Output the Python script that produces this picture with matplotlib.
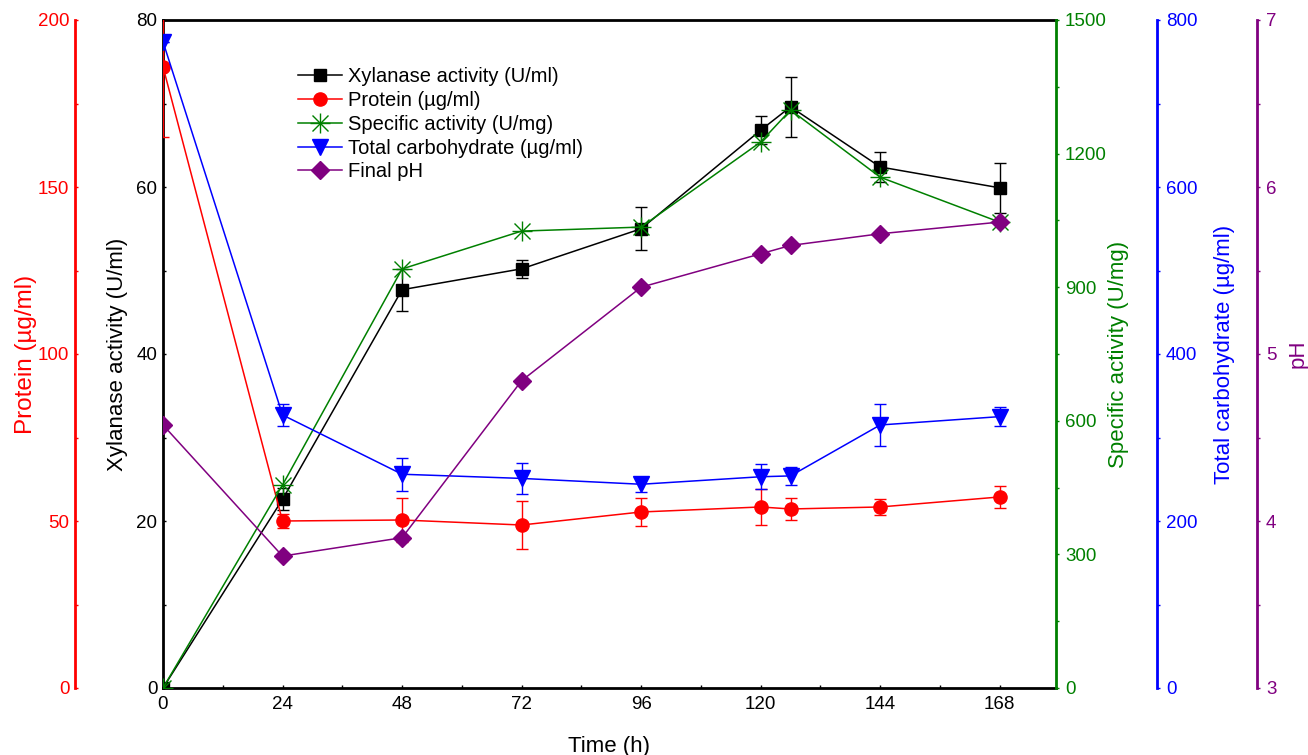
import numpy as np
import matplotlib
matplotlib.use('Agg')
import matplotlib.pyplot as plt

plt.rcParams['font.family'] = ['Liberation Sans', 'DejaVu Sans']

# data
time_h = [0, 24, 48, 72, 96, 120, 126, 144, 168]
xylanase = [0.0, 22.6, 47.7, 50.2, 55.0, 66.8, 69.6, 62.4, 59.9]
xylanase_err = [0.0, 1.3, 2.5, 1.1, 2.6, 1.7, 3.6, 1.8, 3.0]
protein = [186, 50.0, 50.3, 48.8, 52.7, 54.2, 53.6, 54.2, 57.2]
protein_err = [21, 2.0, 6.5, 7.3, 4.2, 5.4, 3.4, 2.5, 3.4]
specific = [0, 456, 941, 1026, 1035, 1226, 1298, 1147, 1046]
carbo = [774, 327, 256, 251, 244, 253, 254, 315, 325]
carbo_err = [0, 13, 20, 19, 9, 15, 11, 25, 11]
ph = [4.575, 3.79, 3.90, 4.84, 5.40, 5.60, 5.65, 5.72, 5.79]

W, H = 1308, 755
fig = plt.figure(figsize=(W/100., H/100.), dpi=100)
x0, x1, y0, y1 = 163, 1056, 20, 688
ax = fig.add_axes([x0/W, 1-y1/H, (x1-x0)/W, (y1-y0)/H])
axw = float(x1-x0)

fs_tick = 13.5
fs_lab = 16

ax_p = ax.twinx()
ax_s = ax.twinx()
ax_c = ax.twinx()
ax_ph = ax.twinx()

lw = 1.1
cap = 4.5

# xylanase (main axis)
h1 = ax.errorbar(time_h, xylanase, yerr=xylanase_err, color='black', marker='s', ms=9,
                 lw=lw, capsize=cap, elinewidth=1, zorder=5)
# protein
h2 = ax_p.errorbar(time_h, protein, yerr=protein_err, color='red', marker='o', ms=9.5,
                   lw=lw, capsize=cap, elinewidth=1)
# specific activity
h3, = ax_s.plot(time_h, specific, color='green', marker='x', ms=12, mew=1, lw=lw)
h3b, = ax_s.plot(time_h, specific, color='green', marker='+', ms=15, mew=1, lw=0)
# carbohydrate
h4 = ax_c.errorbar(time_h, carbo, yerr=carbo_err, color='blue', marker='v', ms=11,
                   lw=lw, capsize=cap, elinewidth=1)
# pH
h5, = ax_ph.plot(time_h, ph, color='purple', marker='D', ms=9, lw=lw)

ax.set_xlim(0, 179.3)
ax.set_xticks(np.arange(0, 169, 24))
ax.set_xticks(np.arange(0, 179, 12), minor=True)
ax.set_ylim(0, 80)
ax.set_yticks([0, 20, 40, 60, 80])
ax.set_yticks(np.arange(0, 81, 10), minor=True)
ax.set_xlabel('Time (h)', fontsize=fs_lab, labelpad=16)
ax.set_ylabel('Xylanase activity (U/ml)', fontsize=fs_lab, labelpad=6)
ax.tick_params(which='both', direction='in', length=2.5, width=1, labelsize=fs_tick, pad=4)
ax.tick_params(axis='x', pad=6)
for s in ['left', 'bottom', 'top']:
    ax.spines[s].set_linewidth(2)
ax.spines['right'].set_visible(False)

def setup(a, color, pos, side, lims, ticks, minor, label, lpad, lsize=fs_lab):
    a.set_ylim(*lims)
    a.set_yticks(ticks)
    a.set_yticks(minor, minor=True)
    for s in a.spines.values():
        s.set_visible(False)
    sp = a.spines[side]
    sp.set_visible(True)
    sp.set_position(('axes', pos))
    sp.set_color(color)
    sp.set_linewidth(2)
    a.yaxis.set_ticks_position(side)
    a.yaxis.set_label_position(side)
    a.tick_params(which='both', colors=color, direction='in' if side == 'left' else 'out',
                  length=2.5, width=1, labelsize=fs_tick, pad=4)
    a.set_ylabel(label, color=color, fontsize=lsize, labelpad=lpad)

setup(ax_p, 'red', (75-x0)/axw, 'left', (0, 200), [0, 50, 100, 150, 200],
      np.arange(0, 201, 25), 'Protein (\u00b5g/ml)', 1, 17.5)
setup(ax_s, 'green', 1.0, 'right', (0, 1500), [0, 300, 600, 900, 1200, 1500],
      np.arange(0, 1501, 150), 'Specific activity (U/mg)', 1)
setup(ax_c, 'blue', (1157-x0)/axw, 'right', (0, 800), [0, 200, 400, 600, 800],
      np.arange(0, 801, 100), 'Total carbohydrate (\u00b5g/ml)', 12)
setup(ax_ph, 'purple', (1257-x0)/axw, 'right', (3, 7), [3, 4, 5, 6, 7],
      np.arange(3, 7.01, 0.5), 'pH', 8)

for a in [ax_p, ax_s, ax_c, ax_ph]:
    a.set_xlim(0, 179.3)

ax_ph.legend([h1[0], h2[0], (h3, h3b), h4[0], h5],
             ['Xylanase activity (U/ml)', 'Protein (\u00b5g/ml)', 'Specific activity (U/mg)',
              'Total carbohydrate (\u00b5g/ml)', 'Final pH'],
             loc='upper left', bbox_to_anchor=(290/W, 1-59/H), bbox_transform=fig.transFigure,
             frameon=False, fontsize=14.5, handlelength=2.2, handletextpad=0.3,
             labelspacing=0.24, borderaxespad=0)

fig.savefig('out.png', dpi=100)
